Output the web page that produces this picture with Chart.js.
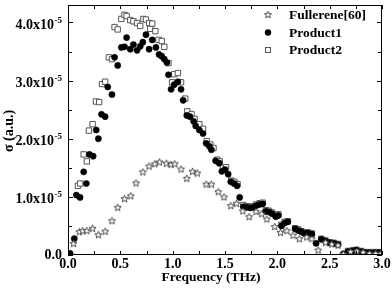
<!DOCTYPE html>
<html>
<head>
<meta charset="utf-8">
<script src="https://cdn.jsdelivr.net/npm/chart.js@4.4.1/dist/chart.umd.min.js"></script>
<style>
  body { margin: 0; background: #fff; }
</style>
</head>
<body>
<canvas id="sigmaChart" width="392" height="293"></canvas>
<script>
// sigma values in units of 1e-5 (a.u.), frequency in THz
const fullereneX = [0.053, 0.108, 0.14, 0.18, 0.235, 0.29, 0.355, 0.42, 0.475, 0.54, 0.60, 0.65, 0.715, 0.775, 0.83, 0.875, 0.94, 0.985, 1.02, 1.08,
  1.135, 1.19, 1.235, 1.32, 1.37, 1.435, 1.49, 1.555, 1.61, 1.67, 1.73, 1.795, 1.85, 1.90, 1.975, 2.03, 2.09, 2.15, 2.21, 2.28,
  2.33, 2.39, 2.46, 2.52, 2.58, 2.63, 2.70, 2.76, 2.82, 2.88, 2.94, 2.99];
const fullereneY = [0.20, 0.40, 0.42, 0.42, 0.46, 0.35, 0.41, 0.59, 0.82, 0.97, 1.02, 1.24, 1.43, 1.53, 1.57, 1.60, 1.58, 1.56, 1.57, 1.48,
  1.32, 1.44, 1.41, 1.22, 1.22, 1.09, 1.00, 0.85, 0.89, 0.76, 0.66, 0.75, 0.71, 0.62, 0.49, 0.39, 0.42, 0.34, 0.28, 0.31,
  0.28, 0.085, 0.22, 0.19, 0.17, 0.02, 0.06, 0.07, 0.05, 0.03, 0.03, 0.03];

const product1X = [0.02, 0.06, 0.08, 0.115, 0.15, 0.175, 0.205, 0.24, 0.27, 0.29, 0.32, 0.355, 0.38, 0.42, 0.445, 0.475, 0.51, 0.54, 0.56, 0.595,
  0.625, 0.66, 0.69, 0.715, 0.745, 0.775, 0.805, 0.84, 0.87, 0.895, 0.92, 0.945, 0.96, 0.985, 1.015, 1.05, 1.08, 1.10, 1.135, 1.165,
  1.20, 1.22, 1.255, 1.29, 1.32, 1.35, 1.37, 1.41, 1.445, 1.47, 1.50, 1.53, 1.555, 1.585, 1.615, 1.64, 1.675, 1.71, 1.74, 1.77,
  1.80, 1.83, 1.86, 1.89, 1.92, 1.95, 1.985, 2.01, 2.04, 2.07, 2.10, 2.17, 2.20, 2.23, 2.26, 2.29, 2.33, 2.37, 2.42, 2.46,
  2.50, 2.54, 2.58, 2.63, 2.675, 2.72, 2.755, 2.80, 2.84, 2.88, 2.93, 2.97];
const product1Y = [0.03, 0.28, 1.03, 0.99, 1.43, 1.23, 1.73, 1.70, 2.15, 2.00, 2.42, 2.38, 2.89, 2.76, 3.40, 3.26, 3.57, 3.58, 3.74, 3.54,
  3.62, 3.52, 3.59, 3.66, 3.79, 3.54, 3.70, 3.57, 3.45, 3.42, 3.37, 3.31, 3.10, 2.85, 2.93, 2.98, 2.85, 2.66, 2.40, 2.38,
  2.30, 2.22, 2.15, 2.09, 1.92, 1.87, 1.81, 1.62, 1.58, 1.44, 1.47, 1.39, 1.26, 1.23, 1.19, 0.99, 0.83, 0.82, 0.81, 0.82,
  0.85, 0.87, 0.88, 0.75, 0.74, 0.71, 0.66, 0.68, 0.50, 0.55, 0.57, 0.45, 0.42, 0.40, 0.37, 0.38, 0.36, 0.20, 0.27, 0.24,
  0.21, 0.20, 0.18, 0.02, 0.06, 0.07, 0.085, 0.06, 0.04, 0.04, 0.04, 0.04];

const product2X = [0.095, 0.117, 0.15, 0.18, 0.20, 0.235, 0.267, 0.298, 0.325, 0.355, 0.39, 0.42, 0.445, 0.475, 0.51, 0.54, 0.56, 0.595, 0.625, 0.66,
  0.69, 0.72, 0.745, 0.775, 0.785, 0.805, 0.835, 0.865, 0.895, 0.92, 0.96, 0.995, 1.015, 1.05, 1.08, 1.12, 1.14, 1.18, 1.21, 1.255,
  1.29, 1.325, 1.36, 1.39, 1.425, 1.45, 1.48, 1.51, 1.56, 1.59, 1.62, 1.675, 1.71, 1.74, 1.77, 1.80, 1.83, 1.86, 1.89, 1.92,
  1.95, 1.985, 2.01, 2.04, 2.07, 2.10, 2.17, 2.20, 2.23, 2.26, 2.29, 2.33, 2.42, 2.46, 2.50, 2.54, 2.58, 2.675, 2.72, 2.755,
  2.80, 2.84, 2.88, 2.93, 2.97];
const product2Y = [1.19, 1.23, 1.73, 1.61, 2.14, 2.25, 2.64, 2.63, 2.94, 2.98, 3.40, 3.37, 3.92, 3.88, 4.06, 4.13, 4.11, 4.04, 4.02, 3.99,
  3.94, 4.06, 4.05, 3.99, 3.89, 3.98, 3.85, 3.70, 3.68, 3.58, 3.30, 2.97, 3.11, 3.13, 2.97, 2.69, 2.47, 2.42, 2.34, 2.25,
  2.17, 1.96, 1.90, 1.84, 1.64, 1.61, 1.50, 1.51, 1.28, 1.26, 1.22, 0.86, 0.84, 0.83, 0.84, 0.87, 0.89, 0.90, 0.77, 0.76,
  0.73, 0.68, 0.70, 0.52, 0.57, 0.58, 0.46, 0.44, 0.41, 0.38, 0.39, 0.37, 0.28, 0.25, 0.22, 0.21, 0.19, 0.07, 0.08, 0.09,
  0.07, 0.05, 0.05, 0.05, 0.05];

const seriesNames = ['Fullerene[60]', 'Product1', 'Product2'];
const yMajorTicks = [0, 1, 2, 3, 4];

const FONT = '"Liberation Serif", "Times New Roman", serif';

function pts(xs, ys) {
  return xs.map((x, i) => ({ x: x, y: ys[i] }));
}

// open five-pointed star marker
function makeStar() {
  const c = document.createElement('canvas');
  c.width = 9; c.height = 9;
  const g = c.getContext('2d');
  g.beginPath();
  for (let i = 0; i < 10; i++) {
    const r = i % 2 ? 1.6 : 3.7;
    const a = -Math.PI / 2 + i * Math.PI / 5;
    const px = 4.5 + r * Math.cos(a), py = 4.9 + r * Math.sin(a);
    if (i === 0) g.moveTo(px, py); else g.lineTo(px, py);
  }
  g.closePath();
  g.fillStyle = '#fff';
  g.fill();
  g.strokeStyle = '#333';
  g.lineWidth = 0.9;
  g.stroke();
  return c;
}
const starImg = makeStar();

const frame = {
  id: 'frame',
  afterDraw(chart) {
    const { ctx, chartArea: { left, right, top, bottom }, scales: { x, y } } = chart;
    ctx.save();
    ctx.strokeStyle = '#000';
    ctx.lineWidth = 1;
    ctx.strokeRect(left + 0.5, top + 0.5, right - left - 1, bottom - top - 1);

    // inward ticks on all four sides
    ctx.beginPath();
    x.ticks.forEach(t => {
      const px = Math.round(x.getPixelForValue(t.value)) + 0.5;
      const len = 4;
      ctx.moveTo(px, bottom); ctx.lineTo(px, bottom - len);
      ctx.moveTo(px, top); ctx.lineTo(px, top + len);
    });
    y.ticks.forEach(t => {
      const py = Math.round(y.getPixelForValue(t.value)) + 0.5;
      const len = Number.isInteger(t.value) ? 5 : 4;
      ctx.moveTo(left, py); ctx.lineTo(left + len, py);
      ctx.moveTo(right, py); ctx.lineTo(right - len, py);
    });
    ctx.stroke();

    // y tick labels with superscript exponent
    ctx.fillStyle = '#000';
    ctx.textBaseline = 'middle';
    yMajorTicks.forEach(v => {
      const py = y.getPixelForValue(v);
      const xr = left - 6;
      if (v === 0) {
        ctx.font = 'bold 14px ' + FONT;
        ctx.textAlign = 'right';
        ctx.fillText('0.0', xr, py);
      } else {
        ctx.font = 'bold 9px ' + FONT;
        ctx.textAlign = 'right';
        const sup = '-5';
        ctx.fillText(sup, xr, py - 2);
        const w = ctx.measureText(sup).width;
        ctx.font = 'bold 14px ' + FONT;
        ctx.fillText(v.toFixed(1) + 'x10', xr - w - 0.5, py + 3);
      }
    });

    // axis titles
    ctx.font = 'bold 13.5px ' + FONT;
    ctx.textAlign = 'center';
    ctx.fillText('Frequency (THz)', 211, 278);
    ctx.save();
    ctx.translate(9, 131);
    ctx.rotate(-Math.PI / 2);
    ctx.font = 'bold 14px ' + FONT;
    ctx.fillText('σ (a.u.)', 0, 0);
    ctx.restore();

    // legend
    const lx = 268, ly = [14.5, 32.5, 50];
    ctx.drawImage(starImg, lx - 4.5, ly[0] - 4.5);
    ctx.beginPath();
    ctx.arc(lx, ly[1], 3.2, 0, Math.PI * 2);
    ctx.fillStyle = '#000';
    ctx.fill();
    ctx.strokeStyle = '#555';
    ctx.lineWidth = 1;
    ctx.strokeRect(lx - 2.5, ly[2] - 2.5, 5, 5);
    ctx.fillStyle = '#000';
    ctx.textAlign = 'left';
    ctx.font = 'bold 13.5px ' + FONT;
    seriesNames.forEach((n, i) => ctx.fillText(n, 289, ly[i] + 1));
    ctx.restore();
  }
};

const ctx = document.getElementById('sigmaChart').getContext('2d');
new Chart(ctx, {
  type: 'scatter',
  data: {
    datasets: [
      {
        label: seriesNames[0],
        data: pts(fullereneX, fullereneY),
        pointStyle: starImg,
        pointRadius: 4
      },
      {
        label: seriesNames[1],
        data: pts(product1X, product1Y),
        pointStyle: 'circle',
        pointRadius: 3.1,
        backgroundColor: '#000',
        borderColor: '#000',
        borderWidth: 0.5
      },
      {
        label: seriesNames[2],
        data: pts(product2X, product2Y),
        pointStyle: 'rect',
        pointRadius: 3.8,
        backgroundColor: '#fff',
        borderColor: '#555',
        borderWidth: 1
      }
    ]
  },
  options: {
    responsive: false,
    animation: false,
    devicePixelRatio: 1,
    layout: { padding: { top: 1, right: 10, left: 0, bottom: 0 } },
    plugins: { legend: { display: false }, tooltip: { enabled: false } },
    scales: {
      x: {
        type: 'linear',
        min: 0, max: 3,
        afterFit: s => { s.height = 38; },
        grid: { display: false, drawTicks: false },
        border: { display: false },
        ticks: {
          stepSize: 0.25,
          padding: 1,
          color: '#000',
          font: { family: FONT, size: 14, weight: 'bold' },
          maxRotation: 0,
          autoSkip: false,
          callback: v => (Math.abs(v * 2 - Math.round(v * 2)) < 1e-6 ? v.toFixed(1) : '')
        }
      },
      y: {
        min: 0, max: 4.3,
        afterFit: s => { s.width = 68; },
        grid: { display: false, drawTicks: false },
        border: { display: false },
        ticks: { stepSize: 0.5, includeBounds: false, display: false }
      }
    }
  },
  plugins: [frame]
});
</script>
</body>
</html>
